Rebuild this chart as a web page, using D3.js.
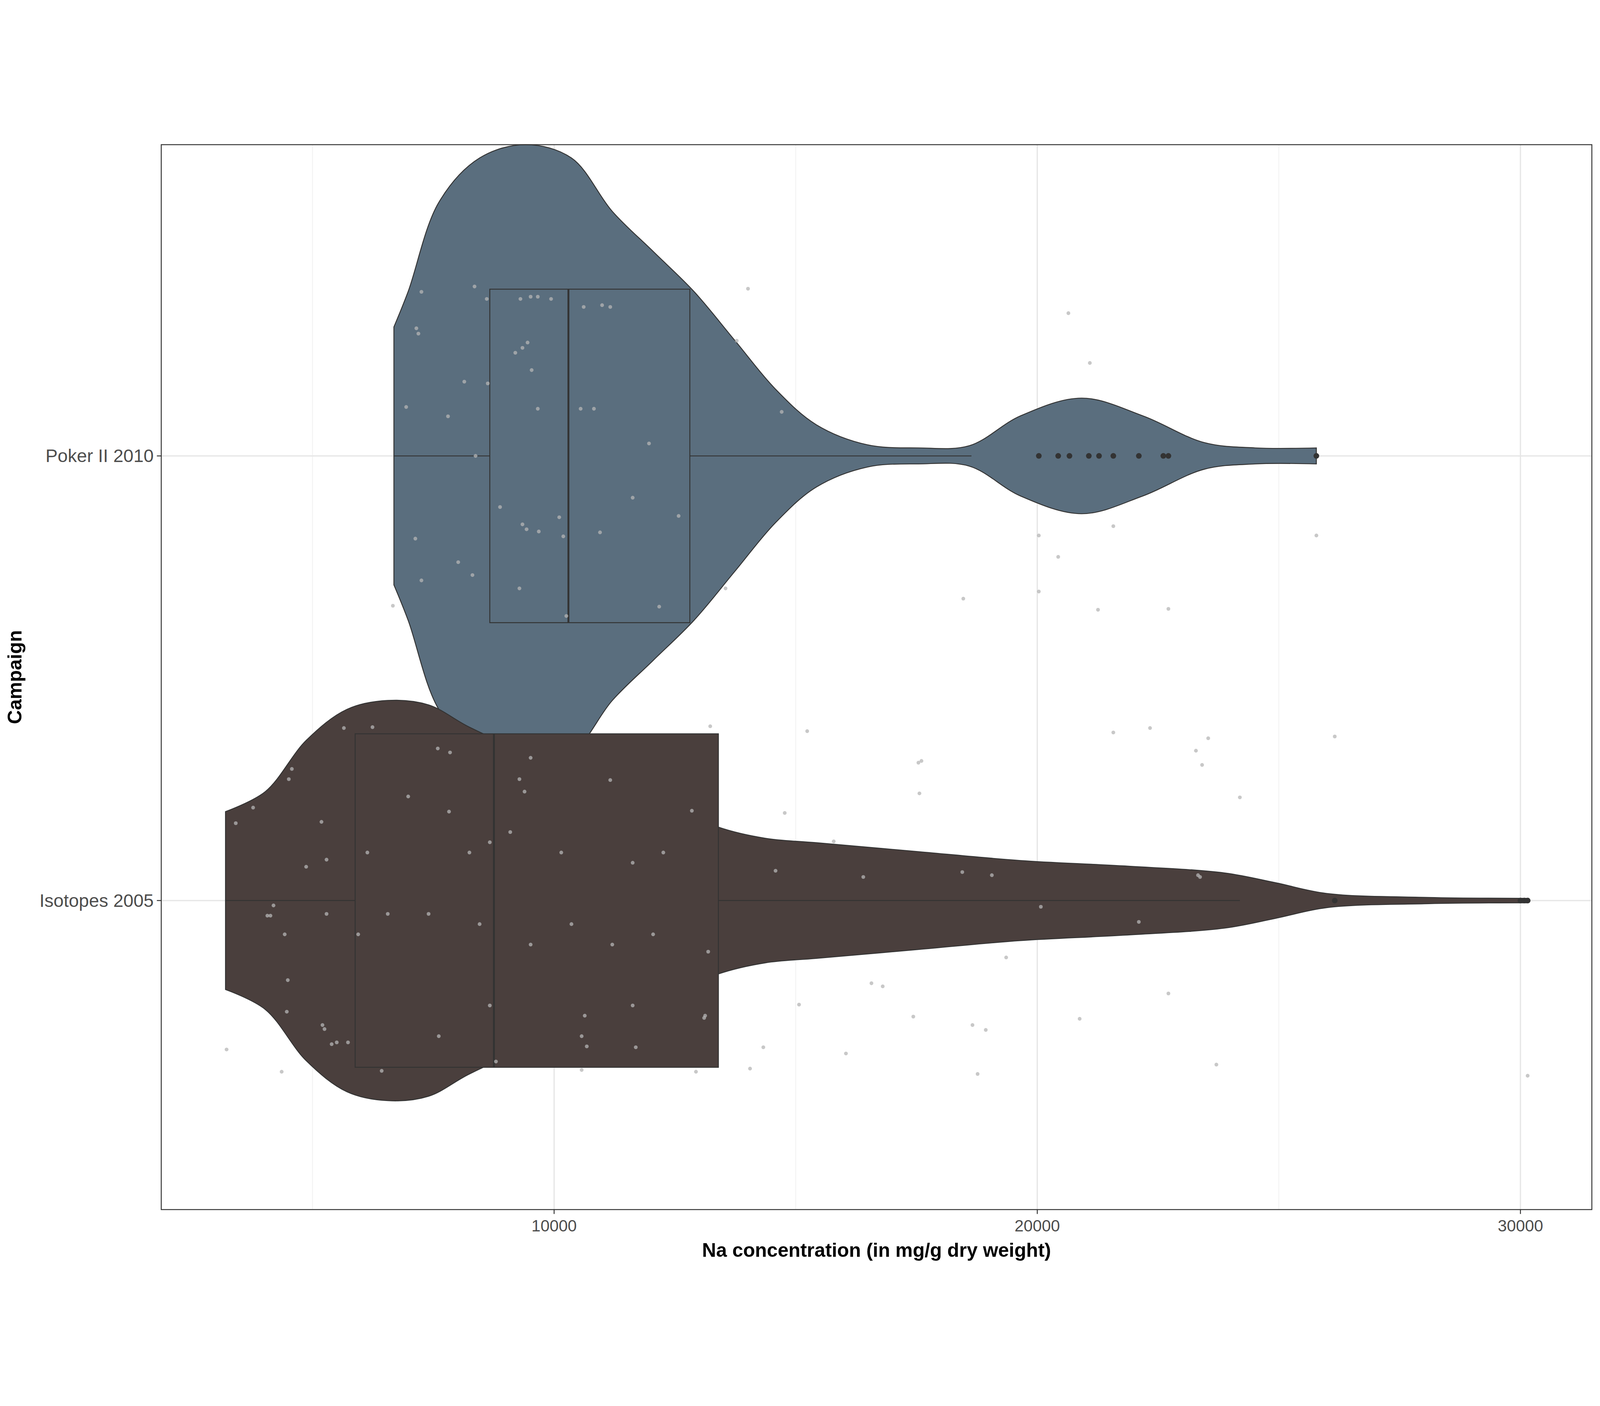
<!DOCTYPE html>
<html><head><meta charset="utf-8">
<script src="https://d3js.org/d3.v7.min.js"></script>
<style>html,body{margin:0;padding:0;background:#fff;overflow:hidden}svg{display:block}</style>
</head><body><div id="viz"></div>
<script>
// categories (1 = bottom, 2 = top)
let campaigns = ["Isotopes 2005", "Poker II 2010"];
let fills = ["#4a3f3d", "#5a6e7e"];
let x_ticks = [10000, 20000, 30000];
let x_minor = [5000, 15000, 25000];

// violin outlines: value and half width (in category units)
let poker_vals = [6684,6980,7613,8458,9409,10359,11204,12049,12893,13738,14583,15428,16484,17540,18596,19652,20919,22186,23453,24509,25776];
let poker_hw   = [0.29,0.37,0.57,0.67,0.70,0.67,0.55,0.46,0.37,0.26,0.15,0.07,0.025,0.018,0.023,0.09,0.13,0.09,0.03,0.018,0.018];
let iso_vals = [3199,4023,4868,5713,6557,7402,8247,9514,11204,12260,13400,14372,15428,17540,19652,21764,23876,24932,25988,28100,30150];
let iso_hw   = [0.20,0.245,0.36,0.43,0.45,0.44,0.39,0.33,0.28,0.22,0.165,0.14,0.13,0.11,0.09,0.078,0.062,0.04,0.016,0.007,0.005];

// boxplot stats: [lowWhisker, q1, median, q3, highWhisker]
let poker_box = [6684, 8669, 10296, 12809, 18638];
let iso_box = [3199, 5882, 8754, 13400, 24193];
let poker_out = [20032,20433,20666,21067,21278,21574,22102,22609,22714,25776];
let iso_out = [26157,30000,30080,30150];

// jittered raw observations: value, vertical jitter offset
let poker_pts_v = [7254,7149,7191,8606,8353,9303,9514,9662,9937,10612,10993,11162,9345,9451,9197,9535,8141,8627,6938,7804,9662,10549,10824,14013,20644,21088,13780,14710,11964,8374,8881,9345,9430,9683,10106,10190,10950,11626,12577,7128,8015,8310,6663,7254,9282,10253,12175,13548,20032,20433,21574,25777,18469,21257,22714,20032];
let poker_pts_o = [0.369,0.287,0.275,0.353,0.381,0.353,0.358,0.358,0.353,0.335,0.339,0.335,0.243,0.255,0.232,0.193,0.167,0.163,0.110,0.089,0.106,0.106,0.106,0.376,0.321,0.209,0.259,0.099,0.028,0,-0.115,-0.154,-0.165,-0.170,-0.138,-0.181,-0.172,-0.094,-0.135,-0.186,-0.239,-0.268,-0.337,-0.280,-0.298,-0.360,-0.339,-0.298,-0.179,-0.227,-0.158,-0.179,-0.321,-0.346,-0.344,-0.305];
let iso_pts_v = [5649,6241,7592,7846,4572,4509,3770,3411,5185,13231,15238,21574,22334,23538,23284,26157,17540,17603,23411,17561,24193,14773,12851,9514,9282,9388,11162,6980,7825,4868,5290,6135,8247,8669,9092,10148,11626,12260,14583,15787,16399,19060,23327,23369,18448,20074,22102,4129,4065,4192,4424,5290,5945,6557,7402,8458,9514,10359,11204,12049,13189,19356,22714,16568,16801,15069,17434,20877,18659,18934,14330,16040,4488,4467,5206,5248,5396,5501,5734,4361,6431,3221,7613,8669,10570,10634,11626,13105,13126,10570,12936,14055,18765,23707,30149,8796,10676,11690];
let iso_pts_o = [0.388,0.390,0.342,0.333,0.296,0.273,0.209,0.174,0.177,0.392,0.381,0.378,0.388,0.365,0.337,0.369,0.310,0.314,0.305,0.241,0.232,0.197,0.202,0.321,0.273,0.245,0.271,0.234,0.200,0.076,0.092,0.108,0.108,0.131,0.154,0.108,0.085,0.108,0.067,0.133,0.053,0.057,0.057,0.053,0.064,-0.014,-0.048,-0.034,-0.034,-0.011,-0.076,-0.030,-0.076,-0.030,-0.030,-0.053,-0.099,-0.053,-0.099,-0.076,-0.115,-0.128,-0.209,-0.186,-0.193,-0.234,-0.261,-0.266,-0.280,-0.291,-0.330,-0.344,-0.179,-0.250,-0.280,-0.289,-0.323,-0.319,-0.319,-0.385,-0.383,-0.335,-0.305,-0.236,-0.305,-0.259,-0.236,-0.264,-0.259,-0.381,-0.385,-0.378,-0.390,-0.369,-0.394,-0.362,-0.328,-0.330];

let W = 5100, H = 3600;
let L = 514, R = 5074, T = 20, B = 3415;
let svg = d3.select("#viz").append("svg")
  .attr("viewBox", "0 0 " + W + " " + H)
  .attr("preserveAspectRatio", "xMidYMid meet")
  .style("width", "100vw").style("height", "100vh");
let x = d3.scaleLinear().domain([1869, 31478]).range([L, R]);
let y = d3.scaleLinear().domain([0.305, 2.7]).range([B, T]);

// grid
let g = svg.append("g");
g.selectAll(".minor").data(x_minor).enter().append("line")
  .attr("x1", d => x(d)).attr("x2", d => x(d)).attr("y1", T).attr("y2", B)
  .attr("stroke", "#f3f3f3").attr("stroke-width", 3);
g.selectAll(".major").data(x_ticks).enter().append("line")
  .attr("x1", d => x(d)).attr("x2", d => x(d)).attr("y1", T).attr("y2", B)
  .attr("stroke", "#e6e6e6").attr("stroke-width", 4);
g.selectAll(".hmaj").data([1, 2]).enter().append("line")
  .attr("x1", L).attr("x2", R).attr("y1", d => y(d)).attr("y2", d => y(d))
  .attr("stroke", "#e6e6e6").attr("stroke-width", 4);

let groups = [
  {c: 2, vals: poker_vals, hw: poker_hw, box: poker_box, out: poker_out, pv: poker_pts_v, po: poker_pts_o, fill: fills[1]},
  {c: 1, vals: iso_vals, hw: iso_hw, box: iso_box, out: iso_out, pv: iso_pts_v, po: iso_pts_o, fill: fills[0]}
];

let area = d3.area().curve(d3.curveCatmullRom);
groups.forEach(function(gr){
  let pts = gr.vals.map((v, i) => [v, gr.hw[i]]);
  area.x(d => x(d[0])).y0(d => y(gr.c - d[1])).y1(d => y(gr.c + d[1]));
  svg.append("path").attr("d", area(pts))
    .attr("fill", gr.fill).attr("stroke", "#333").attr("stroke-width", 3);
});

groups.forEach(function(gr){
  let b = gr.box, c = gr.c, hb = 0.375;
  svg.append("line").attr("x1", x(b[0])).attr("x2", x(b[1])).attr("y1", y(c)).attr("y2", y(c))
    .attr("stroke", "#333").attr("stroke-width", 3);
  svg.append("line").attr("x1", x(b[3])).attr("x2", x(b[4])).attr("y1", y(c)).attr("y2", y(c))
    .attr("stroke", "#333").attr("stroke-width", 3);
  svg.append("rect").attr("x", x(b[1])).attr("width", x(b[3]) - x(b[1]))
    .attr("y", y(c + hb)).attr("height", y(c - hb) - y(c + hb))
    .attr("fill", gr.fill).attr("stroke", "#333").attr("stroke-width", 3);
  svg.append("line").attr("x1", x(b[2])).attr("x2", x(b[2])).attr("y1", y(c + hb)).attr("y2", y(c - hb))
    .attr("stroke", "#333").attr("stroke-width", 6);
  svg.selectAll(null).data(gr.out).enter().append("circle")
    .attr("cx", d => x(d)).attr("cy", y(c)).attr("r", 9).attr("fill", "#333");
});

groups.forEach(function(gr){
  svg.selectAll(null).data(gr.pv).enter().append("circle")
    .attr("cx", d => x(d)).attr("cy", (d, i) => y(gr.c + gr.po[i])).attr("r", 6)
    .attr("fill", "#b5b5b5").attr("opacity", 0.75);
});

// panel border
svg.append("rect").attr("x", L).attr("y", T).attr("width", R - L).attr("height", B - T)
  .attr("fill", "none").attr("stroke", "#333").attr("stroke-width", 3);

// axes
svg.selectAll(".xt").data(x_ticks).enter().append("line")
  .attr("x1", d => x(d)).attr("x2", d => x(d)).attr("y1", B).attr("y2", B + 14)
  .attr("stroke", "#333").attr("stroke-width", 3);
svg.selectAll(".xl").data(x_ticks).enter().append("text")
  .attr("x", d => x(d)).attr("y", B + 70).attr("text-anchor", "middle")
  .attr("font-family", "Liberation Sans, Arial").attr("font-size", 52).attr("fill", "#4d4d4d")
  .text(d => d);
svg.selectAll(".yt").data([1, 2]).enter().append("line")
  .attr("x1", L - 14).attr("x2", L).attr("y1", d => y(d)).attr("y2", d => y(d))
  .attr("stroke", "#333").attr("stroke-width", 3);
svg.selectAll(".yl").data([1, 2]).enter().append("text")
  .attr("x", L - 24).attr("y", d => y(d) + 20).attr("text-anchor", "end")
  .attr("font-family", "Liberation Sans, Arial").attr("font-size", 58).attr("fill", "#4d4d4d")
  .text(d => campaigns[d - 1]);
svg.append("text").attr("x", (L + R) / 2).attr("y", 3565).attr("text-anchor", "middle")
  .attr("font-family", "Liberation Sans, Arial").attr("font-size", 62).attr("font-weight", "bold")
  .text("Na concentration (in mg/g dry weight)");
svg.append("text").attr("transform", "translate(68," + ((T + B) / 2) + ") rotate(-90)")
  .attr("text-anchor", "middle")
  .attr("font-family", "Liberation Sans, Arial").attr("font-size", 62).attr("font-weight", "bold")
  .text("Campaign");
</script></body></html>
